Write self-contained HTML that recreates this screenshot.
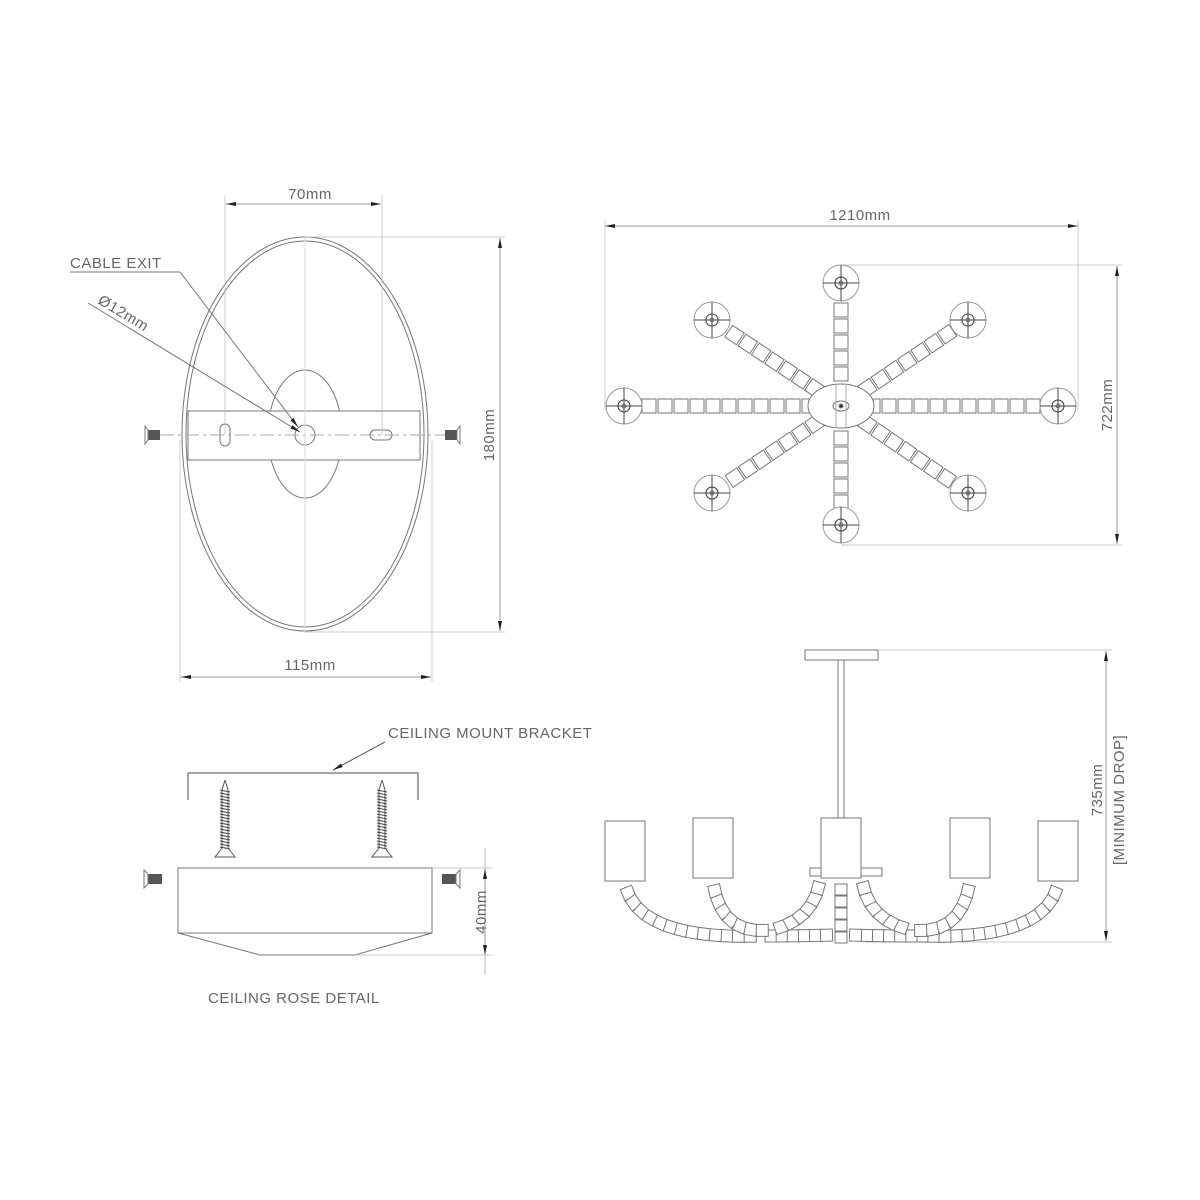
<!DOCTYPE html>
<html><head><meta charset="utf-8"><style>
html,body{margin:0;padding:0;background:#fff;width:1200px;height:1200px;overflow:hidden}
svg{display:block}
text{font-family:"Liberation Sans",sans-serif;fill:#666;font-size:15px;letter-spacing:0.5px}
</style></head><body>
<svg id="s" width="1200" height="1200" viewBox="0 0 1200 1200" xmlns="http://www.w3.org/2000/svg">
<defs>
<marker id="a" viewBox="0 0 10 4" refX="10" refY="2" markerWidth="10" markerHeight="4" orient="auto-start-reverse" markerUnits="userSpaceOnUse"><path d="M0,0L10,2L0,4z" fill="#222"/></marker>
</defs>
<g stroke="#777" fill="none" stroke-width="1">
<ellipse cx="305" cy="434" rx="123" ry="197"/>
<ellipse cx="305" cy="434" rx="119" ry="193"/>
<ellipse cx="305" cy="434" rx="37" ry="64"/>
<rect x="188" y="411" width="232" height="49" fill="#fff"/>
<circle cx="305" cy="435" r="10"/>
<rect x="220" y="424" width="10" height="22" rx="5"/>
<rect x="370" y="430" width="22" height="10" rx="5"/>
<path d="M160,435H450" stroke="#aaa" stroke-dasharray="14 4 3 4"/>
<path d="M305,237V632" stroke="#ddd"/>
<path d="M225,195V435M382,195V435" stroke="#bbb" stroke-width="0.7"/>
<path d="M305,237H505M305,632H505" stroke="#bbb" stroke-width="0.7"/>
<path d="M180,440V682M432,440V682" stroke="#bbb" stroke-width="0.7"/>
<path d="M226,204H381" stroke="#999" marker-start="url(#a)" marker-end="url(#a)"/>
<path d="M500,238V631" stroke="#999" marker-start="url(#a)" marker-end="url(#a)"/>
<path d="M181,677H431" stroke="#999" marker-start="url(#a)" marker-end="url(#a)"/>
<path d="M70,272H180L298,427" stroke="#777" marker-end="url(#a)"/>
<path d="M88,303L300,432" stroke="#777" marker-end="url(#a)"/>
<g fill="#555" stroke="none"><rect x="148" y="430" width="12" height="10"/><rect x="445" y="430" width="12" height="10"/></g>
<path d="M145,426L148,430V440L145,444ZM460,426L457,430V440L460,444Z"/>
<path d="M605,226H1078" stroke="#999" marker-start="url(#a)" marker-end="url(#a)"/>
<path d="M605,220V410M1078,220V410" stroke="#bbb" stroke-width="0.7"/>
<path d="M841,265H1122M841,545H1122" stroke="#bbb" stroke-width="0.7"/>
<path d="M1117,266V544" stroke="#999" marker-start="url(#a)" marker-end="url(#a)"/>
<g id="tr"></g>
<ellipse cx="841" cy="406" rx="33" ry="22" fill="#fff"/>
<ellipse cx="841" cy="406" rx="8" ry="5"/>
<circle cx="841" cy="406" r="2" fill="#333"/>
<path d="M836,384V428M846,384V428" stroke="#aaa"/>
<rect x="805" y="650" width="73" height="10"/>
<path d="M838,660V818M844,660V818"/>
<path d="M878,650H1112M865,942H1112" stroke="#bbb" stroke-width="0.7"/>
<path d="M1106,651V941" stroke="#999" marker-start="url(#a)" marker-end="url(#a)"/>
<g id="br"></g>
<rect x="605" y="821" width="40" height="60" fill="#fff"/>
<rect x="693" y="818" width="40" height="60" fill="#fff"/>
<rect x="810" y="868" width="72" height="8" fill="#fff"/>
<rect x="821" y="818" width="40" height="60" fill="#fff"/>
<rect x="950" y="818" width="40" height="60" fill="#fff"/>
<rect x="1038" y="821" width="40" height="60" fill="#fff"/>
<path d="M188,800V773H418V800" stroke="#888" stroke-width="1.5"/>
<path d="M385,742L333,770" stroke="#555" marker-end="url(#a)"/>
<rect x="178" y="868" width="254" height="65"/>
<path d="M178,933L260,955H355L432,933"/>
<path d="M432,868H492M355,955H492" stroke="#bbb" stroke-width="0.7"/>
<path d="M485,848V869M485,955V975" stroke="#bbb"/>
<path d="M485,869V955" stroke="#999" marker-start="url(#a)" marker-end="url(#a)"/>
<g fill="#555" stroke="none"><rect x="148" y="874" width="14" height="10"/><rect x="442" y="874" width="14" height="10"/></g>
<path d="M144,870L148,874V884L144,888ZM460,870L456,874V884L460,888Z"/>
<g id="bl"></g>
</g>
<text x="310" y="199" text-anchor="middle">70mm</text>
<text x="70" y="268">CABLE EXIT</text>
<text transform="translate(97,303) rotate(31)">Ø12mm</text>
<text transform="translate(494,435) rotate(-90)" text-anchor="middle">180mm</text>
<text x="310" y="670" text-anchor="middle">115mm</text>
<text x="860" y="220" text-anchor="middle">1210mm</text>
<text transform="translate(1112,405) rotate(-90)" text-anchor="middle">722mm</text>
<text transform="translate(1102,790) rotate(-90)" text-anchor="middle">735mm</text>
<text transform="translate(1124,800) rotate(-90)" text-anchor="middle">[MINIMUM DROP]</text>
<text x="388" y="738">CEILING MOUNT BRACKET</text>
<text x="208" y="1003">CEILING ROSE DETAIL</text>
<text transform="translate(486,912) rotate(-90)" text-anchor="middle">40mm</text>
</svg>
<script>
var NS="http://www.w3.org/2000/svg";
function el(p,t,a){var e=document.createElementNS(NS,t);for(var k in a)e.setAttribute(k,a[k]);p.appendChild(e);return e;}
var tr=document.getElementById("tr");
var cx=841,cy=406;
var ends=[[624,406],[1058,406],[841,283],[841,525],[712,320],[968,320],[712,493],[968,493]];
ends.forEach(function(p){
  var dx=p[0]-cx,dy=p[1]-cy,L=Math.hypot(dx,dy),ux=dx/L,uy=dy/L,ang=Math.atan2(dy,dx)*180/Math.PI;
  for(var d=32;d<L-14;d+=16){
    var x=cx+ux*d,y=cy+uy*d;
    el(tr,"rect",{x:-7,y:-7,width:14,height:14,fill:"#fff",transform:"translate("+x+","+y+") rotate("+ang+")"});
  }
  el(tr,"circle",{cx:p[0],cy:p[1],r:18,fill:"#fff",stroke:"#999"});
  el(tr,"circle",{cx:p[0],cy:p[1],r:6,stroke:"#333"});
  el(tr,"circle",{cx:p[0],cy:p[1],r:2});
  el(tr,"path",{d:"M"+(p[0]-18)+","+p[1]+"H"+(p[0]+18)+"M"+p[0]+","+(p[1]-18)+"V"+(p[1]+18),stroke:"#444"});
});
var br=document.getElementById("br");
function qb(p0,p1,p2,t){var a=1-t;return[a*a*p0[0]+2*a*t*p1[0]+t*t*p2[0],a*a*p0[1]+2*a*t*p1[1]+t*t*p2[1]];}
function chain(p0,p1,p2){
  var pts=[],n=200;for(var i=0;i<=n;i++)pts.push(qb(p0,p1,p2,i/n));
  var acc=0,last=pts[0];
  for(var i=1;i<pts.length;i++){acc+=Math.hypot(pts[i][0]-last[0],pts[i][1]-last[1]);last=pts[i];
    if(acc>=11){acc=0;var q=pts[i-1];var ang=Math.atan2(pts[i][1]-q[1],pts[i][0]-q[0])*180/Math.PI;
      el(br,"rect",{x:-6,y:-6,width:12,height:12,fill:"#fff",transform:"translate("+pts[i][0]+","+pts[i][1]+") rotate("+ang+")"});}}
}
chain([625,882],[635,940],[760,936]);chain([760,936],[800,936],[832,935]);
chain([713,880],[720,935],[770,930]);chain([770,930],[815,920],[820,878]);
chain([1058,882],[1048,940],[922,936]);chain([922,936],[882,936],[850,935]);
chain([970,880],[962,935],[912,930]);chain([912,930],[867,920],[862,878]);
for(var y=884;y<940;y+=12)el(br,"rect",{x:835,y:y,width:12,height:11,fill:"#fff"});
var bl=document.getElementById("bl");
[225,382].forEach(function(x){
  el(bl,"path",{d:"M"+x+",780L"+(x-3)+",790V848M"+x+",780L"+(x+3)+",790V848",stroke:"#555"});
  for(var y=790;y<848;y+=3)el(bl,"path",{d:"M"+(x-5)+","+y+"L"+(x+5)+","+(y+2),stroke:"#444"});
  el(bl,"path",{d:"M"+(x-3)+",848L"+(x-10)+",857H"+(x+10)+"L"+(x+3)+",848",stroke:"#555"});
});
</script>
</body></html>
